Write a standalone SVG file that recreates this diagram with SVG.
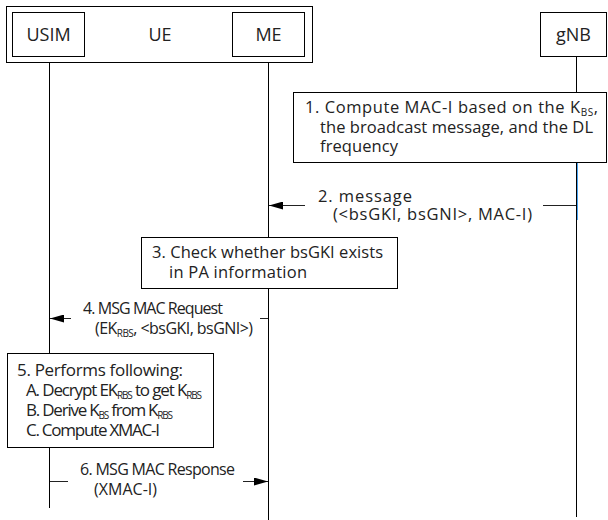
<svg xmlns="http://www.w3.org/2000/svg" width="608" height="520" viewBox="0 0 608 520">
  <style>
    .box { fill: #fff; stroke: #000; stroke-width: 1; }
    .life { stroke: #000; stroke-width: 1; fill: none; }
    .msg { stroke: #222; stroke-width: 1; fill: none; }
    .hdr { font-family: "Open Sans", "Noto Sans", sans-serif; font-size: 18px; fill: #222; text-anchor: middle; }
    .txt { font-family: "Open Sans", "Noto Sans", sans-serif; font-size: 16.5px; fill: #222; }
    .s16 { font-family: "Open Sans", "Noto Sans", sans-serif; font-size: 16px; fill: #222; }
    .s17 { font-family: "Open Sans", "Noto Sans", sans-serif; font-size: 17px; fill: #222; }
    .sub { font-size: 10px; }
  </style>
  <defs>
    <marker id="arrow" viewBox="0 0 14 8" refX="14" refY="4" markerWidth="14" markerHeight="8" markerUnits="userSpaceOnUse" orient="auto">
      <path d="M0,0 L14,4 L0,8 Z" fill="#000"/>
    </marker>
  </defs>

  <rect width="608" height="520" fill="#fff"/>

  <!-- lifelines -->
  <g id="lifelines">
    <line class="life" x1="49.5" y1="57" x2="49.5" y2="353"/>
    <line class="life" x1="49.5" y1="448" x2="49.5" y2="508"/>
    <line class="life" x1="268.5" y1="57" x2="268.5" y2="237"/>
    <line class="life" x1="268.5" y1="289" x2="268.5" y2="520"/>
    <line class="life" x1="576.5" y1="57" x2="576.5" y2="92"/>
    <line class="life" x1="576.5" y1="163" x2="576.5" y2="517"/>
    <line x1="577.5" y1="163" x2="577.5" y2="220" stroke="#4aa3f0" stroke-width="1"/>
  </g>

  <!-- UE container with USIM and ME -->
  <g id="ue">
    <rect class="box" x="6.5" y="6.5" width="306" height="56" stroke-width="1.3"/>
    <text class="hdr" x="160" y="41">UE</text>
  </g>
  <g id="usim">
    <rect class="box" x="12.5" y="12.5" width="72" height="44"/>
    <text class="hdr" x="48.5" y="41">USIM</text>
  </g>
  <g id="me">
    <rect class="box" x="232.5" y="12.5" width="72" height="44"/>
    <text class="hdr" x="268.5" y="41">ME</text>
  </g>
  <g id="gnb">
    <rect class="box" x="540.5" y="12.5" width="66" height="44"/>
    <text class="hdr" x="573.5" y="41">gNB</text>
  </g>

  <!-- step 1 -->
  <g id="step1">
    <rect class="box" x="293.5" y="92.5" width="313" height="70"/>
    <text class="txt" x="305" y="113" textLength="293">1. Compute MAC-I based on the K<tspan class="sub" baseline-shift="-3">BS</tspan>,</text>
    <text class="txt" x="320" y="133" textLength="273">the broadcast message, and the DL</text>
    <text class="txt" x="320" y="152" textLength="78">frequency</text>
  </g>

  <!-- step 3 -->
  <g id="step3">
    <rect class="box" x="141.5" y="237.5" width="256" height="51"/>
    <text class="txt" x="152" y="258" textLength="231">3. Check whether bsGKI exists</text>
    <text class="txt" x="169" y="278" textLength="138">in PA information</text>
  </g>

  <!-- step 5 -->
  <g id="step5">
    <rect class="box" x="7.5" y="353.5" width="206" height="94"/>
    <text class="s17" x="17" y="376" textLength="166">5. Performs following:</text>
    <text class="s17" x="26" y="396" textLength="176">A. Decrypt EK<tspan class="sub" baseline-shift="-3">RBS</tspan> to get K<tspan class="sub" baseline-shift="-3">RBS</tspan></text>
    <text class="s17" x="26" y="416" textLength="147">B. Derive K<tspan class="sub" baseline-shift="-3">BS</tspan> from K<tspan class="sub" baseline-shift="-3">RBS</tspan></text>
    <text class="s17" x="26" y="436" textLength="134">C. Compute XMAC-I</text>
  </g>

  <!-- messages -->
  <g id="connectors">
    <g id="msg2">
      <line class="msg" x1="576" y1="205.5" x2="543" y2="205.5"/>
      <line class="msg" x1="305" y1="205.5" x2="269" y2="205.5" marker-end="url(#arrow)"/>
      <text class="txt" x="318" y="202" textLength="94">2. message</text>
      <text class="txt" x="333" y="220" textLength="199">(&lt;bsGKI, bsGNI&gt;, MAC-I)</text>
    </g>
    <g id="msg4">
      <line class="msg" x1="268" y1="318.5" x2="260" y2="318.5"/>
      <line class="msg" x1="71" y1="318.5" x2="50" y2="318.5" marker-end="url(#arrow)"/>
      <text class="s16" x="83" y="314" textLength="140">4. MSG MAC Request</text>
      <text class="s16" x="95" y="334" textLength="158">(EK<tspan class="sub" baseline-shift="-3">RBS</tspan>, &lt;bsGKI, bsGNI&gt;)</text>
    </g>
    <g id="msg6">
      <line class="msg" x1="50" y1="481.5" x2="68" y2="481.5"/>
      <line class="msg" x1="243" y1="481.5" x2="268" y2="481.5" marker-end="url(#arrow)"/>
      <text class="s16" x="80" y="475" textLength="155">6. MSG MAC Response</text>
      <text class="s16" x="94" y="495" textLength="63">(XMAC-I)</text>
    </g>
  </g>
</svg>
